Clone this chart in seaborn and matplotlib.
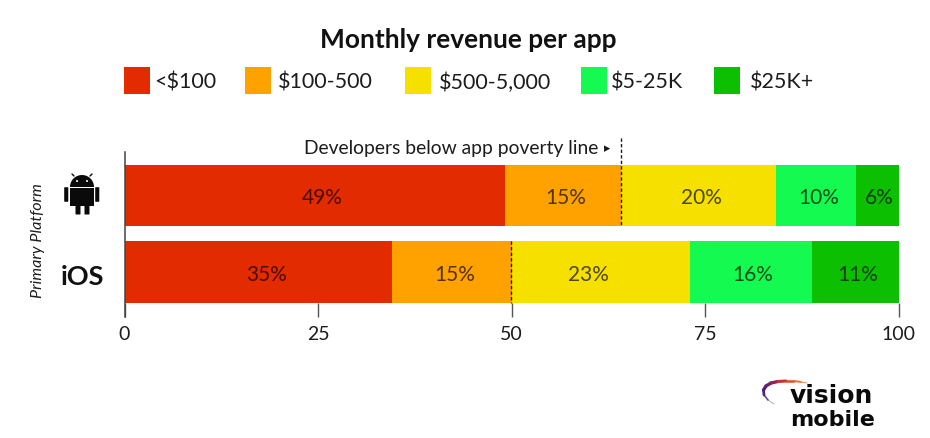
import numpy as np
import pandas as pd
import matplotlib
matplotlib.use("Agg")
import matplotlib.pyplot as plt
from matplotlib.patches import Rectangle, FancyBboxPatch, Wedge, Circle
import seaborn as sns

platforms = ["Android", "iOS"]
tiers = ["<$100", "$100-500", "$500-5,000", "$5-25K", "$25K+"]
android_values = [49.2, 15.0, 20.0, 10.3, 5.5]
ios_values = [34.6, 15.4, 23.0, 15.8, 11.2]
android_labels = ["49%", "15%", "20%", "10%", "6%"]
ios_labels = ["35%", "15%", "23%", "16%", "11%"]
tier_colors = ["#E32B00", "#FFA200", "#F6E000", "#14FA50", "#0CBF00"]
x_ticks = [0, 25, 50, 75, 100]
poverty_line = [64.2, 49.9]

sns.set_theme(style="white")
plt.rcParams["font.family"] = ["Lato", "DejaVu Sans"]
INK = "#1c1c1c"

fig = plt.figure(figsize=(9.3, 4.39), dpi=100, facecolor="white")
W, H = 930, 439
ax = fig.add_axes([124.5 / W, 1 - 318 / H, 774 / W, 165 / H])

values = np.array([android_values, ios_values])
cum = values.cumsum(axis=1)
df = pd.DataFrame(cum, columns=tiers).assign(platform=platforms)
for i in range(len(tiers) - 1, -1, -1):
    sns.barplot(data=df, y="platform", x=tiers[i], color=tier_colors[i], width=0.805,
                saturation=1, ax=ax, order=platforms, linewidth=0, zorder=2 + (4 - i) * 0.01)

ax.set_xlim(0, 100)
ax.set_ylim(1.588, -0.569)
ax.set_xlabel("")
ax.set_ylabel("")
ax.set_yticks([])
ax.set_xticks(x_ticks)
ax.tick_params(axis="x", direction="in", length=10, width=1, color="#555555",
               labelsize=14, labelcolor=INK, pad=6, bottom=True)
for s in ["top", "right", "bottom"]:
    ax.spines[s].set_visible(False)
ax.spines["left"].set_color("#444444")
ax.spines["left"].set_linewidth(1.1)
ax.spines["left"].set_zorder(10)
ax.patch.set_alpha(0)

# percentage labels, centred on each segment
for r, labels in enumerate([android_labels, ios_labels]):
    lefts = np.r_[0, cum[r][:-1]]
    for j, lab in enumerate(labels):
        nudge = 1.0 if j == 0 else 0.3
        if r == 1 and j == 2:
            nudge = -1.5
        ax.text(lefts[j] + values[r][j] / 2 + nudge, r + 0.025, lab, ha="center", va="center",
                fontsize=15, color="black", alpha=0.68, zorder=6)

# poverty line
ax.vlines(poverty_line[0], -0.75, 0.4, colors="#1a1a1a", linestyles=(0, (2.4, 1.6)),
          linewidth=1, clip_on=False, zorder=7)
ax.vlines(poverty_line[1], 0.6, 1.4, colors="#1a1a1a", linestyles=(0, (2.4, 1.6)),
          linewidth=1, zorder=7)

# overlay in pixel coordinates for decoration and free text
ov = fig.add_axes([0, 0, 1, 1], zorder=20)
ov.set_xlim(0, W)
ov.set_ylim(H, 0)
ov.axis("off")
ov.patch.set_alpha(0)

ov.text(468, 40, "Monthly revenue per app", ha="center", va="center", fontsize=18.9,
        fontweight="bold", color="#111111")
ov.text(304, 148.5, "Developers below app poverty line", ha="left", va="center",
        fontsize=13.9, color=INK)
ov.text(607, 149, "▸", ha="center", va="center", fontsize=9, color=INK, family="DejaVu Sans")
ov.text(38, 241, "Primary Platform", rotation=90, ha="center", va="center", fontsize=11.6,
        style="italic", color=INK)
ov.text(82, 277, "iOS", ha="center", va="center", fontsize=19.5, fontweight="bold", color="#111111")

# legend
leg_x = [124, 245, 405, 581, 714]
text_x = [154, 278, 439, 611, 750]
for c, t, lx, tx in zip(tier_colors, tiers, leg_x, text_x):
    ov.add_patch(Rectangle((lx, 68), 26, 27, color=c, lw=0))
    ov.text(tx, 82.5, t, ha="left", va="center", fontsize=15.5, color=INK)

# Android icon
k = "#0a0a0a"
ov.add_patch(Wedge((82, 188), 12, 180, 360, color=k, lw=0))
ov.add_patch(Rectangle((70, 189), 24, 18, color=k, lw=0))
ov.add_patch(FancyBboxPatch((76, 200), 4, 15, boxstyle="round,pad=0.5", color=k, lw=0))
ov.add_patch(FancyBboxPatch((85, 200), 4, 15, boxstyle="round,pad=0.5", color=k, lw=0))
ov.add_patch(FancyBboxPatch((65, 189), 2.5, 13, boxstyle="round,pad=0.8", color=k, lw=0))
ov.add_patch(FancyBboxPatch((96, 189), 2.5, 13, boxstyle="round,pad=0.8", color=k, lw=0))
ov.add_patch(Circle((77, 182), 1, color="white", lw=0))
ov.add_patch(Circle((87, 182), 1, color="white", lw=0))
ov.plot([74, 72], [177, 175], color=k, lw=1)
ov.plot([90, 92], [177, 175], color=k, lw=1)

# Vision Mobile logo: swoosh and wordmark
sw_x = [774, 768, 764, 763.5, 766, 771, 778, 786, 794, 801, 807]
sw_y = [405, 401, 396, 391, 387, 384, 382.5, 382, 382, 383, 384]
sw_c = ["#a89ab8", "#6a4a90", "#4a2a80", "#4a2080", "#6a2070", "#9a2050", "#c83030", "#e04a20", "#e87030", "#e89a60"]
sw_w = [0.6, 1.2, 2.0, 2.4, 2.4, 2.4, 2.2, 1.8, 1.4, 0.8]
for n in range(len(sw_c)):
    ov.plot(sw_x[n:n + 2], sw_y[n:n + 2], color=sw_c[n], lw=sw_w[n], solid_capstyle="round")
ov.text(790, 396, "vision", ha="left", va="center", fontsize=18, fontweight="bold",
        color="#0a0a0a", family="DejaVu Sans")
ov.text(790, 420, "mobile", ha="left", va="center", fontsize=16, fontweight="bold",
        color="#0a0a0a", family="DejaVu Sans")

fig.savefig("out.png", dpi=100, facecolor="white")
